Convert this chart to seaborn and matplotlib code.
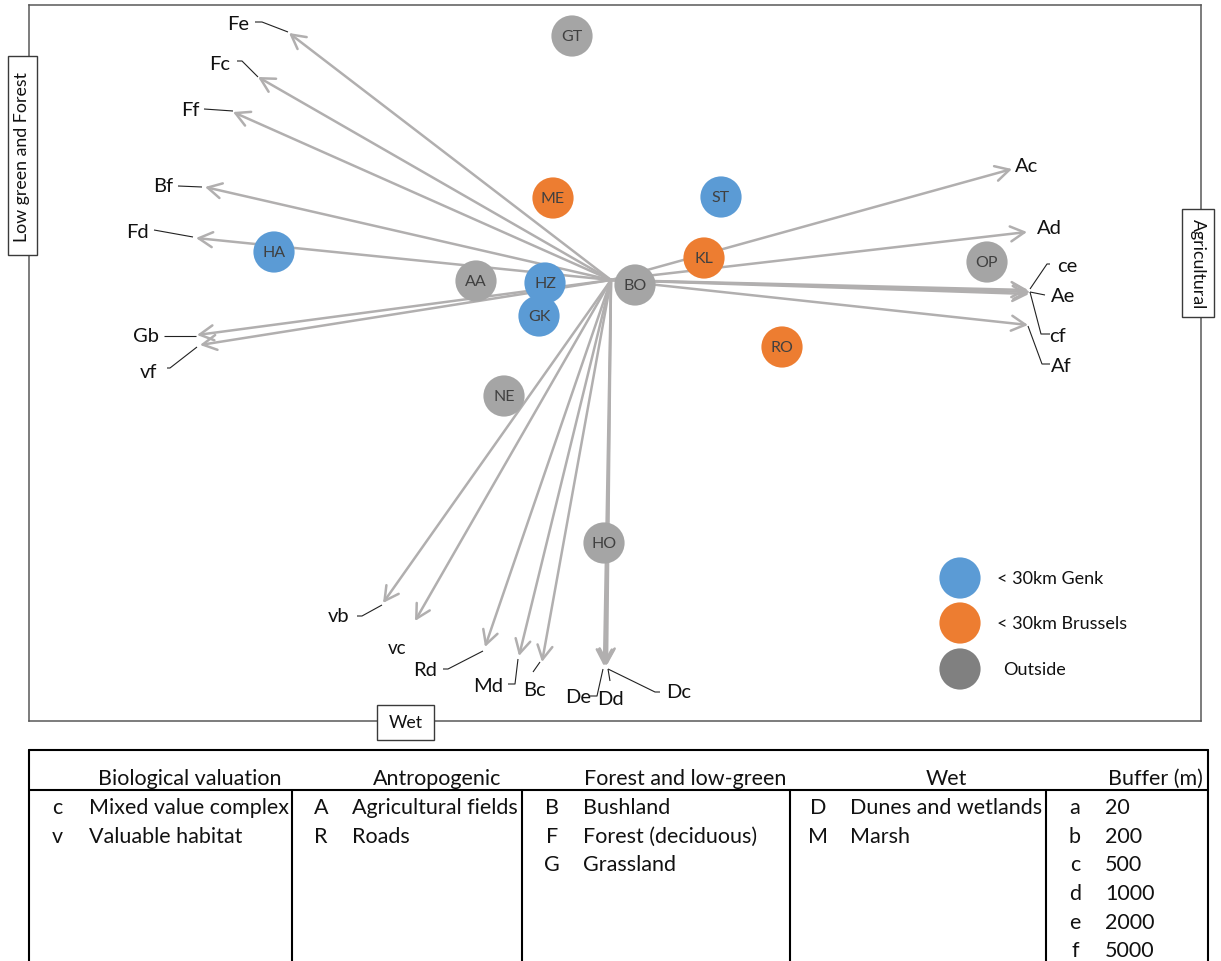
import numpy as np
import pandas as pd
import matplotlib
matplotlib.use("Agg")
import matplotlib.pyplot as plt
from matplotlib.patches import Rectangle
import seaborn as sns

# ---------------------------------------------------------------- data
# Site scores on the two ordination axes
site_names = ["GT", "ME", "ST", "HA", "AA", "HZ", "GK", "BO", "KL", "OP", "RO", "NE", "HO"]
site_x = [-0.39, -0.58, 1.10, -3.37, -1.35, -0.66, -0.72, 0.24, 0.93, 3.76, 1.71, -1.07, -0.07]
site_y = [2.44, 0.82, 0.83, 0.28, -0.01, -0.03, -0.36, -0.05, 0.22, 0.18, -0.67, -1.16, -2.63]
site_group = ["Outside", "< 30km Brussels", "< 30km Genk", "< 30km Genk", "Outside",
              "< 30km Genk", "< 30km Genk", "Outside", "< 30km Brussels", "Outside",
              "< 30km Brussels", "Outside", "Outside"]

# Land-cover x buffer variable loadings
var_names = ["Fe", "Fc", "Ff", "Bf", "Fd", "Gb", "vf", "Ac", "Ad", "ce", "Ae", "cf", "Af",
             "vb", "vc", "Rd", "Md", "Bc", "De", "Dd", "Dc"]
var_x = [-3.22, -3.53, -3.78, -4.06, -4.15, -4.14, -4.11, 4.01, 4.16, 4.17, 4.19, 4.18, 4.17,
         -2.28, -1.96, -1.26, -0.92, -0.69, -0.07, -0.05, -0.04]
var_y = [2.47, 2.03, 1.68, 0.93, 0.42, -0.55, -0.65, 1.11, 0.48, -0.10, -0.12, -0.14, -0.45,
         -3.23, -3.41, -3.67, -3.76, -3.82, -3.86, -3.86, -3.85]

group_order = ["< 30km Genk", "< 30km Brussels", "Outside"]
group_colors = ["#5b9bd5", "#ed7d31", "#a5a5a5"]
legend_colors = ["#5b9bd5", "#ed7d31", "#808080"]

# Key table
table_headers = ["Biological valuation", "Antropogenic", "Forest and low-green", "Wet", "Buffer (m)"]
table_codes = [["c", "v"], ["A", "R"], ["B", "F", "G"], ["D", "M"], ["a", "b", "c", "d", "e", "f"]]
table_terms = [["Mixed value complex", "Valuable habitat"],
               ["Agricultural fields", "Roads"],
               ["Bushland", "Forest (deciduous)", "Grassland"],
               ["Dunes and wetlands", "Marsh"],
               ["20", "200", "500", "1000", "2000", "5000"]]

axis_names = ["Low green and Forest", "Agricultural", "Wet"]

# ---------------------------------------------------------------- layout (pixels)
label_offset = {
    "Fe": (-51, 10), "Fc": (-38, 14), "Ff": (-43, 3), "Bf": (-42, 1), "Fd": (-59, 7),
    "Gb": (-51, -1), "vf": (-51, -26), "Ac": (15, 4), "Ad": (22, 4), "ce": (39, 24),
    "Ae": (33, -4), "cf": (29, -42), "Af": (33, -40), "vb": (-44, -13), "vc": (-18, -26),
    "Rd": (-60, -23), "Md": (-31, -30), "Bc": (-8, -28), "De": (-26, -31), "Dd": (4, -33),
    "Dc": (72, -27),
}
leader_path = {
    "Fe": [(-34, 11), (-27, 11), (-1, 1)],
    "Fc": [(-21, 16), (-16, 16), (0, 0)],
    "Ff": [(-29, 3), (0, 1)],
    "Bf": [(-27, 1), (-3, 0)],
    "Fd": [(-42, 8), (-3, 1)],
    "Gb": [(-33, -1), (-1, -1)],
    "vf": [(-33, -23), (-30, -23), (-3, -2)],
    "ce": [(22, 26), (19, 26), (2, 1)],
    "Ae": [(15, -3), (0, 0)],
    "cf": [(21, -40), (12, -40), (1, 2)],
    "Af": [(22, -39), (14, -39), (0, -1)],
    "vb": [(-26, -13), (-21, -13), (-1, -2)],
    "Rd": [(-42, -22), (-37, -22), (-2, -4)],
    "Md": [(-11, -28), (-4, -28), (-1, -3)],
    "Bc": [(-9, -10), (-2, 0)],
    "De": [(-14, -30), (-7, -30), (-1, -3)],
    "Dd": [(2, -3), (4, -15)],
    "Dc": [(53, -27), (48, -27), (1, -4)],
}

W, H = 1221, 962
FL, FT, FR, FB = 29, 6, 1201, 722          # plot frame
XLIM, YLIM = (-5.82, 5.90), (-4.41, 2.75)
ARROW = "#b1afaf"
TEXT = "#111111"

sns.set_theme(style="white")
plt.rcParams["font.family"] = ["Lato", "DejaVu Sans"]

fig = plt.figure(figsize=(W / 100, H / 100), dpi=100)
fig.patch.set_facecolor("white")
ax = fig.add_axes([FL / W, 1 - FB / H, (FR - FL) / W, (FB - FT) / H])
ax.set_xlim(*XLIM)
ax.set_ylim(*YLIM)
ax.set_xticks([])
ax.set_yticks([])
for sp in ax.spines.values():
    sp.set_color("#595959")
    sp.set_linewidth(1.1)

ppu = (FR - FL) / (XLIM[1] - XLIM[0])      # pixels per axis unit

# variable arrows from the origin
for name, x, y in zip(var_names, var_x, var_y):
    ax.annotate("", xy=(x, y), xytext=(0, 0),
                arrowprops=dict(arrowstyle="->,head_length=0.5,head_width=0.27",
                                color=ARROW, lw=1.8, shrinkA=0, shrinkB=0,
                                mutation_scale=20),
                zorder=2)
    ox, oy = label_offset[name]
    ax.annotate(name, xy=(x, y), xytext=(ox, oy), textcoords="offset pixels",
                ha="center", va="center", fontsize=14.5 if name != "vc" else 13.5,
                color=TEXT, zorder=4)
    if name in leader_path:
        pts = np.array(leader_path[name], dtype=float)
        ax.plot(x + pts[:, 0] / ppu, y + pts[:, 1] / ppu, color="#222222",
                lw=0.8, zorder=4, solid_capstyle="butt")

# site scores
sites = pd.DataFrame({"site": site_names, "x": site_x, "y": site_y, "group": site_group})
sns.scatterplot(data=sites, x="x", y="y", hue="group", hue_order=group_order,
                palette=dict(zip(group_order, group_colors)), s=880,
                edgecolor="none", linewidth=0, legend=False, ax=ax, zorder=3)
for _, r in sites.iterrows():
    ax.text(r.x, r.y, r.site, ha="center", va="center", fontsize=11.5,
            color="#404040", zorder=4)
ax.set_xlabel("")
ax.set_ylabel("")

# legend
leg_y = [(FB - 579) / (FB - FT), (FB - 624) / (FB - FT), (FB - 670) / (FB - FT)]
leg_mx = (960 - FL) / (FR - FL)
for i, (lab, col) in enumerate(zip(group_order, legend_colors)):
    ax.scatter([leg_mx], [leg_y[i]], s=880, color=col, edgecolor="none",
               transform=ax.transAxes, clip_on=False, zorder=3)
    tx = (997 - FL) / (FR - FL) if i < 2 else (1003 - FL) / (FR - FL)
    ax.text(tx, leg_y[i], lab, transform=ax.transAxes, ha="left", va="center",
            fontsize=13, color=TEXT)

# ---------------------------------------------------------------- overlay in pixel space
ov = fig.add_axes([0, 0, 1, 1], zorder=5)
ov.set_xlim(0, W)
ov.set_ylim(H, 0)
ov.axis("off")
ov.patch.set_alpha(0)


def name_box(x0, y0, x1, y1, text, rot):
    ov.add_patch(Rectangle((x0, y0), x1 - x0, y1 - y0, facecolor="white",
                           edgecolor="#3a3a3a", lw=1.0))
    ov.text((x0 + x1) / 2, (y0 + y1) / 2, text, rotation=rot, ha="center",
            va="center", fontsize=12.8, color=TEXT, rotation_mode="anchor")


name_box(8, 57, 37, 256, axis_names[0], 90)
name_box(1182, 210, 1214, 318, axis_names[1], 270)
name_box(377, 706, 434, 741, axis_names[2], 0)

# key table
TL, TR, TT, THB = 29, 1208, 751, 791
lw_t = 1.5
ov.plot([TL, TR], [TT, TT], color="black", lw=lw_t)
ov.plot([TL, TR], [THB, THB], color="black", lw=lw_t)
ov.plot([TL, TL], [TT, H], color="black", lw=lw_t)
ov.plot([TR, TR], [TT, H], color="black", lw=lw_t)
for xs in [292, 522, 790, 1046]:
    ov.plot([xs, xs], [THB, H], color="black", lw=lw_t)

FS_T = 15.5
BASE = 7          # baseline sits this many pixels below the row centre

head_x = [190, 437, 685, 946, 1203]
head_ha = ["center", "center", "center", "center", "right"]
for hx, ha, txt in zip(head_x, head_ha, table_headers):
    ov.text(hx, 778 + BASE, txt, ha=ha, va="baseline", fontsize=FS_T, color=TEXT)

code_x = [57, 321, 552, 818, 1075]
term_x = [89, 352, 583, 850, 1105]
row_y = [807, 836, 864, 893, 922, 950]
for cx, tx, codes, terms in zip(code_x, term_x, table_codes, table_terms):
    for ry, c, t in zip(row_y, codes, terms):
        ov.text(cx, ry + BASE, c, ha="center", va="baseline", fontsize=FS_T, color=TEXT)
        ov.text(tx, ry + BASE, t, ha="left", va="baseline", fontsize=FS_T, color=TEXT)

fig.savefig("out.png", dpi=100, facecolor="white")
